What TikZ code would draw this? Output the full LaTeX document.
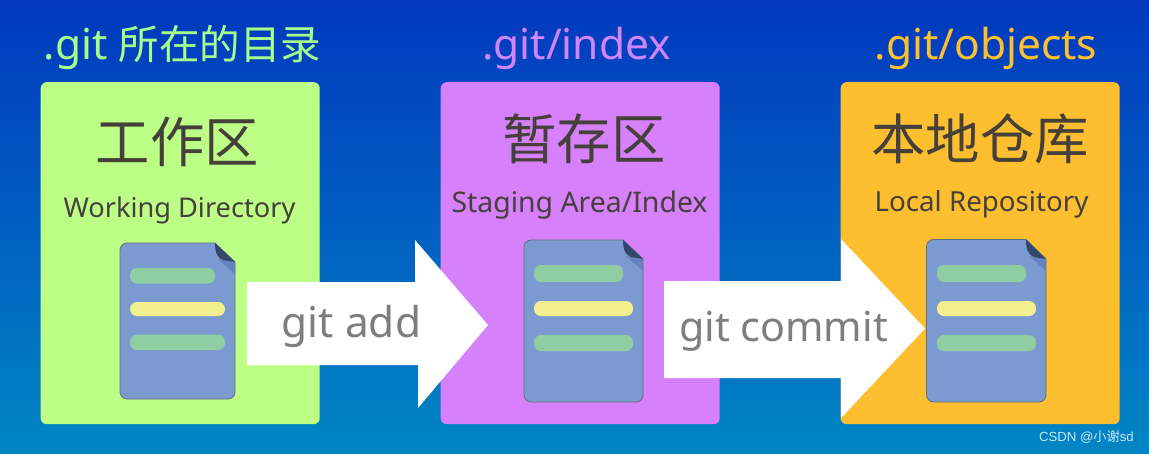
\documentclass[tikz,border=0pt]{standalone}
\usepackage{fontspec}
\setmainfont{Noto Sans}
\newfontfamily\cjk{Noto Sans CJK SC}
\usetikzlibrary{positioning}
\definecolor{bgtop}{HTML}{0238BE}
\definecolor{bgbot}{HTML}{0086C4}
\definecolor{pgreen}{HTML}{BDFF86}
\definecolor{ppurple}{HTML}{D780FB}
\definecolor{porange}{HTML}{FDBF2F}
\definecolor{tgreen}{HTML}{A6FF8C}
\definecolor{tpurple}{HTML}{CF85FF}
\definecolor{torange}{HTML}{FFC02E}
\definecolor{ink}{HTML}{45403A}
\definecolor{docblue}{HTML}{7B9BD0}
\definecolor{docedge}{HTML}{5F6F80}
\definecolor{fold}{HTML}{33466C}
\definecolor{foldsh}{HTML}{6482BE}
\definecolor{bargreen}{HTML}{90CDA2}
\definecolor{baryellow}{HTML}{F3F08F}
\definecolor{cmdgray}{HTML}{7E7E7E}
\newcommand{\fs}[1]{\fontsize{#1}{#1}\selectfont}
\tikzset{
  x=1pt,y=-1pt,
  panel/.style={rounded corners=6pt,minimum width=279pt,minimum height=342pt,inner sep=0pt,anchor=north west},
  head/.style={font=\fs{42.5},inner sep=0pt,anchor=base},
  cnhead/.style={font=\fs{54.4}\cjk,text=ink,inner sep=0pt,anchor=base},
  enhead/.style={text=ink,inner sep=0pt,anchor=base},
  cmd/.style={text=cmdgray,inner sep=0pt,anchor=base},
  docbody/.style={fill=docblue,draw=docedge,line width=0.8pt,line join=round},
  blockarrow/.style={fill=white},
  bar/.style={rounded corners=7pt}
}
\newcommand{\docicon}[6]{%
  % #1 left, #2 top, #3 right, #4 bottom, #5 fold x, #6 fold y
  \draw[docbody] (#5,#2) -- (#3,#6) -- (#3,#4-7) arc[start angle=0,end angle=90,radius=7pt,y radius=-7pt] -- (#1+7,#4)
     arc[start angle=90,end angle=180,radius=7pt,y radius=-7pt] -- (#1,#2+7)
     arc[start angle=180,end angle=270,radius=7pt,y radius=-7pt] -- cycle;
  \fill[foldsh] (#5+3,#6-3) -- (#3,#6) -- (#3,#6+12) -- cycle;
  \fill[fold] (#5,#2) -- (#3,#6) -- (#5+8,#6-2) .. controls (#5+3,#6-4) and (#5,#6-8) .. cycle;
}
\begin{document}
\begin{tikzpicture}
\useasboundingbox (0,0) rectangle (1149,453);
\shade[top color=bgtop,bottom color=bgbot] (0,0) rectangle (1149,453);
% titles
\node[head,text=tgreen] (t1) at (182.5,59) {.git {\fs{40.5}\cjk 所在的目录}};
\node[head,text=tpurple] (t2) at (576.5,59) {.git/index};
\node[head,text=torange] (t3) at (986,59) {.git/objects};
% panels
\node[panel,fill=pgreen] (p1) at (40.5,82) {};
\node[panel,fill=ppurple] (p2) at (440.5,82) {};
\node[panel,fill=porange] (p3) at (840.5,82) {};
% panel titles
\node[cnhead] (c1) at (177.5,162) {工作区};
\node[cnhead] (c2) at (584,159) {暂存区};
\node[cnhead] (c3) at (980,159) {本地仓库};
\node[enhead,font=\fs{27.2}] (e1) at (179.5,217) {Working Directory};
\node[enhead,font=\fs{28.4}] (e2) at (579.5,212) {Staging Area/Index};
\node[enhead,font=\fs{27.7}] (e3) at (981.5,211) {Local Repository};
% documents
\docicon{120}{243}{235}{399}{215}{262}
\fill[bargreen,bar] (130,268) rectangle (215,283.5);
\fill[baryellow,bar] (130,302) rectangle (225,316);
\fill[bargreen,bar] (130,334.5) rectangle (225,350);
\docicon{524}{240}{643}{402}{623}{259}
\fill[bargreen,bar] (534,265) rectangle (623,282);
\fill[baryellow,bar] (534,301) rectangle (633,316);
\fill[bargreen,bar] (534,335) rectangle (633,351);
\docicon{926.5}{239.5}{1046}{402}{1026}{259}
\fill[bargreen,bar] (937,265) rectangle (1026,282);
\fill[baryellow,bar] (937,301) rectangle (1036,316);
\fill[bargreen,bar] (937,335) rectangle (1036,351);
% block arrows
\fill[blockarrow] (247,282) -- (415,282) -- (415,240) -- (488,325) -- (418,408) -- (418,365) -- (247,365) -- cycle;
\fill[blockarrow] (664,281) -- (841,281) -- (841,239) -- (925,328.5) -- (841,418) -- (841,378) -- (664,378) -- cycle;
\node[cmd,font=\fs{42.4}] (a1) at (351.5,337) {git add};
\node[cmd,font=\fs{41.2}] (a2) at (783.5,341) {git commit};
% watermark
\node[font=\fs{13.2},text=white!80!bgbot,inner sep=0pt,anchor=base east] (w) at (1134,441) {\fontspec{Liberation Sans}CSDN @{\cjk 小谢}sd};
\end{tikzpicture}
\end{document}
